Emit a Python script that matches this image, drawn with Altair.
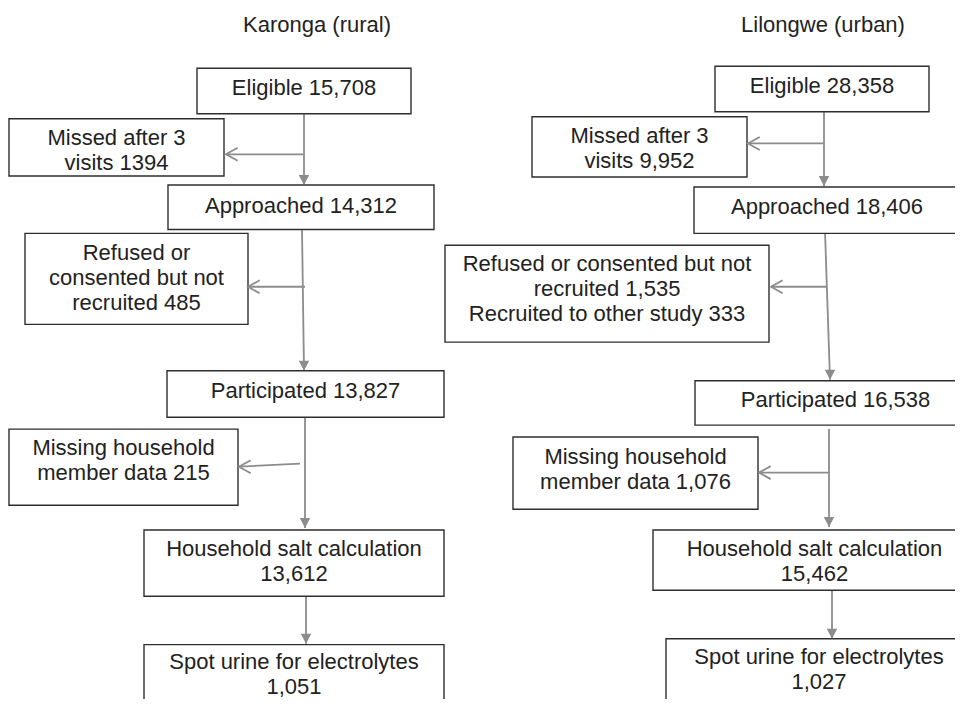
import altair as alt
import pandas as pd

# ---- content (text and counts) ----
titles = ["Karonga (rural)", "Lilongwe (urban)"]
main_steps = ["Eligible", "Approached", "Participated",
              "Household salt calculation", "Spot urine for electrolytes"]
karonga_main = ["15,708", "14,312", "13,827", "13,612", "1,051"]
lilongwe_main = ["28,358", "18,406", "16,538", "15,462", "1,027"]
main_sep = [" ", " ", " ", "\n", "\n"]
karonga_excluded = ["Missed after 3\nvisits 1394",
                    "Refused or\nconsented but not\nrecruited 485",
                    "Missing household\nmember data 215"]
lilongwe_excluded = ["Missed after 3\nvisits 9,952",
                     "Refused or consented but not\nrecruited 1,535\nRecruited to other study 333",
                     "Missing household\nmember data 1,076"]

# ---- layout (pixel positions of the diagram, reference coordinates) ----
title_pos = [(317, 25), (823, 25)]
main_boxes_k = [(197, 411, 69, 115), (168, 434, 187, 232), (167, 444, 375, 422),
                (144, 444, 536, 603), (144, 444, 652, 730)]
main_boxes_l = [(715, 929, 67, 113), (694, 960, 189, 236), (695, 976, 385, 430),
                (653, 976, 536, 597), (666, 972, 646, 730)]
# y of the first text line in each box
main_text_y_k = [89, 208, 395, 555, 670]
main_text_y_l = [87, 209, 405, 555, 665]
side_boxes_k = [(9, 224, 120, 178), (25, 248, 236, 328), (9, 238, 434, 511)]
side_boxes_l = [(532, 747, 118, 179), (445, 769, 248, 346), (513, 758, 442, 515)]
side_text_y_k = [139, 256, 453]
side_text_y_l = [137, 267, 462]
v_arrows = [(304, 115, 304, 187), (302, 232, 304, 375), (305, 422, 305, 534), (306, 603, 306, 651),
            (824, 113, 824, 188), (825, 234, 830, 384), (829, 434, 829, 533), (832, 597, 832, 646)]
h_arrows = [(303, 156, 226, 156), (305, 290, 248, 290), (300, 469, 239, 472),
            (824, 145, 748, 145), (826, 290, 771, 290), (829, 478, 759, 478)]

# ---- tables ----
box_rows = []
text_rows = []
for boxes, ys, counts in [(main_boxes_k, main_text_y_k, karonga_main),
                          (main_boxes_l, main_text_y_l, lilongwe_main)]:
    for (x0, x1, y0, y1), ty, step, cnt, sep in zip(boxes, ys, main_steps, counts, main_sep):
        box_rows.append(dict(x0=x0, x1=x1, y0=y0, y1=y1))
        text_rows.append(dict(x=(x0 + x1) / 2, y=ty, text=step + sep + cnt))
for boxes, ys, labels in [(side_boxes_k, side_text_y_k, karonga_excluded),
                          (side_boxes_l, side_text_y_l, lilongwe_excluded)]:
    for (x0, x1, y0, y1), ty, lab in zip(boxes, ys, labels):
        box_rows.append(dict(x0=x0, x1=x1, y0=y0, y1=y1))
        text_rows.append(dict(x=(x0 + x1) / 2, y=ty, text=lab))
for (tx, ty), t in zip(title_pos, titles):
    text_rows.append(dict(x=tx, y=ty, text=t))

boxes_df = pd.DataFrame(box_rows)
texts_df = pd.DataFrame(text_rows)
rules_df = pd.DataFrame([dict(x=a, y=b, x2=c, y2=d) for a, b, c, d in v_arrows + h_arrows])
vheads_df = pd.DataFrame([dict(x=c, y=d) for a, b, c, d in v_arrows])
hheads_df = pd.DataFrame([dict(x=c, y=d) for a, b, c, d in h_arrows])

W, H = 947, 691
XS = alt.Scale(domain=[8, 8 + W], nice=False, zero=False)
YS = alt.Scale(domain=[8, 707], nice=False, zero=False, reverse=True)

GRAY = "#8c8c8c"
FONT = "Liberation Sans"

rects = alt.Chart(boxes_df).mark_rect(fill="white", stroke="#2e2e2e", strokeWidth=1.4, clip=True).encode(
    x=alt.X("x0:Q", scale=XS, axis=None), x2="x1:Q",
    y=alt.Y("y0:Q", scale=YS, axis=None), y2="y1:Q")

rules = alt.Chart(rules_df).mark_rule(color=GRAY, strokeWidth=1.8, clip=True).encode(
    x=alt.X("x:Q", scale=XS, axis=None), x2="x2:Q",
    y=alt.Y("y:Q", scale=YS, axis=None), y2="y2:Q")

vheads = alt.Chart(vheads_df).mark_point(
    shape="M-1,-1.9L1,-1.9L0,0Z", filled=True, fill=GRAY, strokeWidth=0, size=110, opacity=1).encode(
    x=alt.X("x:Q", scale=XS, axis=None), y=alt.Y("y:Q", scale=YS, axis=None))

hheads = alt.Chart(hheads_df).mark_point(
    shape="M1.8,-1L0,0L1.8,1", filled=False, stroke=GRAY, strokeWidth=1.8, size=169, opacity=1).encode(
    x=alt.X("x:Q", scale=XS, axis=None), y=alt.Y("y:Q", scale=YS, axis=None))

texts = alt.Chart(texts_df).mark_text(
    font=FONT, fontSize=22, color="#222222", align="center", baseline="middle",
    lineBreak="\n", lineHeight=25, clip=True).encode(
    x=alt.X("x:Q", scale=XS, axis=None), y=alt.Y("y:Q", scale=YS, axis=None), text="text:N")

chart = alt.layer(rules, rects, vheads, hheads, texts).properties(
    width=W, height=H, padding=0, background="white",
    autosize=alt.AutoSizeParams(type="none"),
).configure_view(stroke=None, strokeWidth=0)

chart.save("out.html", embed_options={"renderer": "svg", "actions": False})
